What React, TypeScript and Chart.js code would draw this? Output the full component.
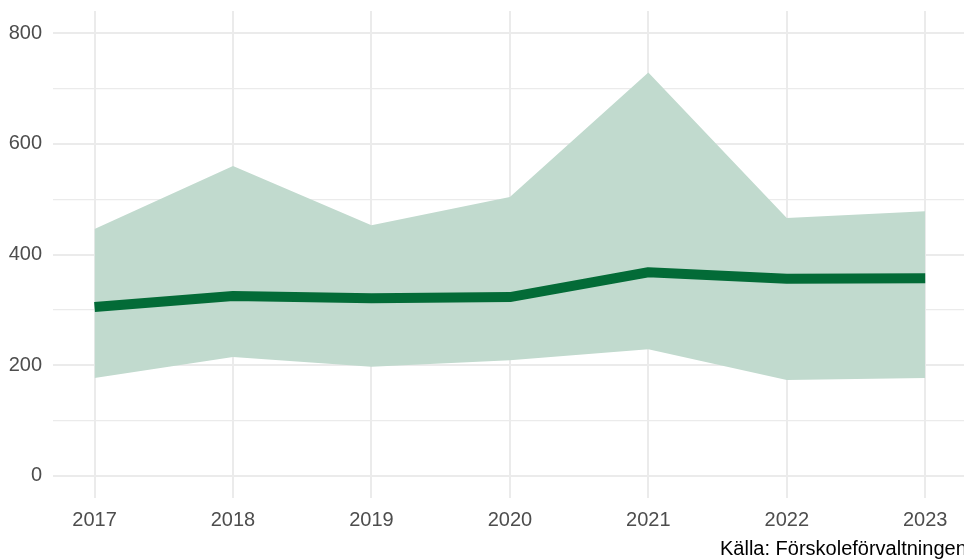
import React, { useEffect, useRef } from "react";
import { Chart, registerables } from "chart.js";

Chart.register(...registerables);

const years = [2017, 2018, 2019, 2020, 2021, 2022, 2023];
const meanValues = [305, 325, 321, 323, 368, 356, 357];
const upperValues = [446, 560, 453, 504, 729, 466, 478];
const lowerValues = [177, 215, 197, 209, 229, 173, 177];
const yTicks = [0, 100, 200, 300, 400, 500, 600, 700, 800];
const caption = "Källa: Förskoleförvaltningen";

const RIBBON = "#c1dace";
const LINE = "#036b37";
const GRID = "#ebebeb";
const AXIS_TEXT = "#4d4d4d";
const FONT = "'Liberation Sans', Arial, sans-serif";

export default function App() {
  const ref = useRef<HTMLCanvasElement | null>(null);

  useEffect(() => {
    if (!ref.current) return;
    const toPts = (arr: number[]) => years.map((x, i) => ({ x, y: arr[i] }));

    const captionPlugin = {
      id: "caption",
      afterDraw(chart: any) {
        const c = chart.ctx;
        c.save();
        c.font = `20px ${FONT}`;
        c.fillStyle = "#000000";
        c.textAlign = "left";
        c.textBaseline = "alphabetic";
        c.fillText(caption, 720, 555);
        c.restore();
      },
    };

    const chart = new Chart(ref.current, {
      type: "line",
      data: {
        datasets: [
          {
            label: "mean",
            data: toPts(meanValues),
            borderColor: LINE,
            borderWidth: 10,
            borderCapStyle: "butt",
            borderJoinStyle: "round",
            pointRadius: 0,
            fill: false,
            order: 0,
            tension: 0,
          },
          {
            label: "upper",
            data: toPts(upperValues),
            borderWidth: 0,
            borderColor: "rgba(0,0,0,0)",
            backgroundColor: RIBBON,
            pointRadius: 0,
            fill: "+1",
            order: 1,
          },
          {
            label: "lower",
            data: toPts(lowerValues),
            borderWidth: 0,
            borderColor: "rgba(0,0,0,0)",
            pointRadius: 0,
            fill: false,
            order: 1,
          },
        ],
      },
      options: {
        animation: false,
        responsive: false,
        maintainAspectRatio: false,
        layout: { padding: { top: 11, right: 0, left: 0, bottom: 0 } },
        plugins: {
          legend: { display: false },
          tooltip: { enabled: false },
          title: { display: false },
        },
        scales: {
          x: {
            type: "linear",
            min: 2016.7,
            max: 2023.28,
            afterBuildTicks: (scale: any) => {
              scale.ticks = years.map((v) => ({ value: v }));
            },
            afterFit: (scale: any) => {
              scale.height = 61;
              scale.paddingLeft = 0;
              scale.paddingRight = 0;
            },
            ticks: {
              autoSkip: false,
              maxRotation: 0,
              padding: 10,
              color: AXIS_TEXT,
              font: { family: FONT, size: 20 },
              callback: (v: any) => String(v),
            },
            grid: { color: GRID, lineWidth: 2, drawTicks: false },
            border: { display: false },
          },
          y: {
            type: "linear",
            min: -40,
            max: 840,
            afterBuildTicks: (scale: any) => {
              scale.ticks = yTicks.map((v) => ({ value: v }));
            },
            afterFit: (scale: any) => {
              scale.width = 53;
              scale.paddingTop = 0;
              scale.paddingBottom = 0;
            },
            ticks: {
              autoSkip: false,
              padding: 11,
              color: AXIS_TEXT,
              font: { family: FONT, size: 20 },
              callback: (v: any) => (Number(v) % 200 === 0 ? String(v) : ""),
            },
            grid: {
              color: GRID,
              lineWidth: (ctx: any) =>
                ctx.tick && ctx.tick.value % 200 === 0 ? 2 : 1.3,
              drawTicks: false,
            },
            border: { display: false },
          },
        },
      },
      plugins: [captionPlugin],
    } as any);

    return () => chart.destroy();
  }, []);

  return (
    <div
      style={{
        position: "fixed",
        left: 0,
        top: 0,
        width: 964,
        height: 559,
        background: "#ffffff",
      }}
    >
      <canvas ref={ref} width={964} height={559} style={{ width: 964, height: 559 }} />
    </div>
  );
}
